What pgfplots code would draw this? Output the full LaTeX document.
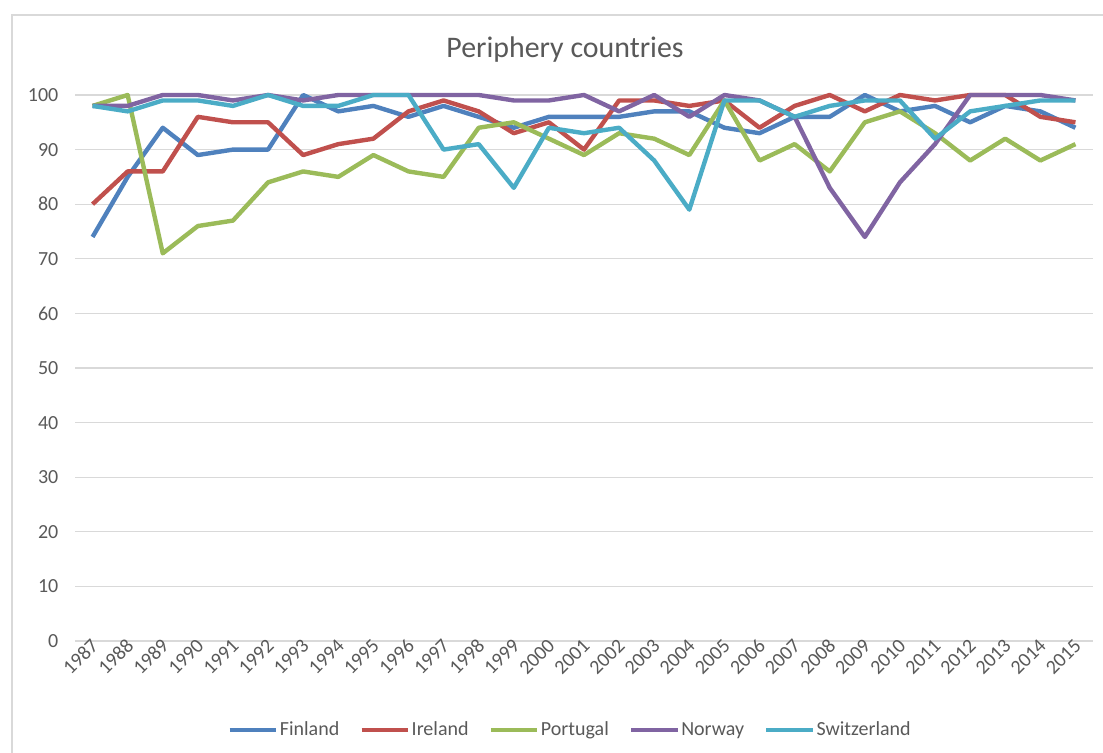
\documentclass[border=0pt]{standalone}
\usepackage{fontspec}
\setmainfont{Carlito}
\usepackage{pgfplots}
\usepackage{pgfplotstable}
\pgfplotsset{compat=1.18}
\definecolor{fin}{HTML}{4F81BD}
\definecolor{ire}{HTML}{C0504D}
\definecolor{por}{HTML}{9BBB59}
\definecolor{nor}{HTML}{8064A2}
\definecolor{swi}{HTML}{4BACC6}
\definecolor{txt}{HTML}{595959}
\definecolor{grd}{HTML}{D9D9D9}
\pgfplotstableread{
year Finland Ireland Portugal Norway Switzerland
1987 74 80 98 98 98
1988 85 86 100 98 97
1989 94 86 71 100 99
1990 89 96 76 100 99
1991 90 95 77 99 98
1992 90 95 84 100 100
1993 100 89 86 99 98
1994 97 91 85 100 98
1995 98 92 89 100 100
1996 96 97 86 100 100
1997 98 99 85 100 90
1998 96 97 94 100 91
1999 94 93 95 99 83
2000 96 95 92 99 94
2001 96 90 89 100 93
2002 96 99 93 97 94
2003 97 99 92 100 88
2004 97 98 89 96 79
2005 94 99 99 100 99
2006 93 94 88 99 99
2007 96 98 91 96 96
2008 96 100 86 83 98
2009 100 97 95 74 99
2010 97 100 97 84 99
2011 98 99 93 91 92
2012 95 100 88 100 97
2013 98 100 92 100 98
2014 97 96 88 100 99
2015 94 95 91 99 99
}\data
\begin{document}
\begin{tikzpicture}
\path[use as bounding box] (0pt,0pt) rectangle (827.25pt,564.75pt);
\draw[grd, line width=0.9pt] (9pt,-10pt) -- (9pt,553.5pt) -- (840pt,553.5pt);
\node[font=\fontsize{22.4}{25}\selectfont, text=txt] at (423.75pt,527.25pt) {Periphery countries};
\begin{axis}[
  at={(56.25pt,84pt)}, anchor=south west,
  scale only axis, width=763.5pt, height=409.5pt,
  xmin=1986.5, xmax=2015.5, ymin=0, ymax=100,
  xtick={1987,...,2015}, ytick={0,10,...,100},
  /pgf/number format/1000 sep={},
  /pgf/number format/assume math mode=true,
  axis line style={draw=none},
  major tick length=0pt,
  ymajorgrids, grid style={grd, line width=0.9pt},
  tick label style={font=\fontsize{15}{17}\selectfont, text=txt},
  xticklabel style={rotate=45, anchor=east, xshift=4pt, yshift=-2pt},
  yticklabel style={xshift=-9pt},
  clip=false,
  legend columns=5,
  legend style={at={(0.486,-0.163)}, anchor=center, draw=none, fill=none,
    font=\fontsize{15}{17}\selectfont, text=txt,
    nodes={inner xsep=1pt},
    /tikz/every even column/.append style={column sep=14pt}},
  legend image code/.code={\draw[#1, line width=3.3pt] (0pt,0pt) -- (35pt,0pt);},
  every axis plot/.append style={line width=3.3pt, line join=round, no markers},
]
\addplot[fin] table[x=year,y=Finland] {\data};
\addplot[ire] table[x=year,y=Ireland] {\data};
\addplot[por] table[x=year,y=Portugal] {\data};
\addplot[nor] table[x=year,y=Norway] {\data};
\addplot[swi] table[x=year,y=Switzerland] {\data};
\legend{Finland,Ireland,Portugal,Norway,Switzerland}
\end{axis}
\end{tikzpicture}
\end{document}
